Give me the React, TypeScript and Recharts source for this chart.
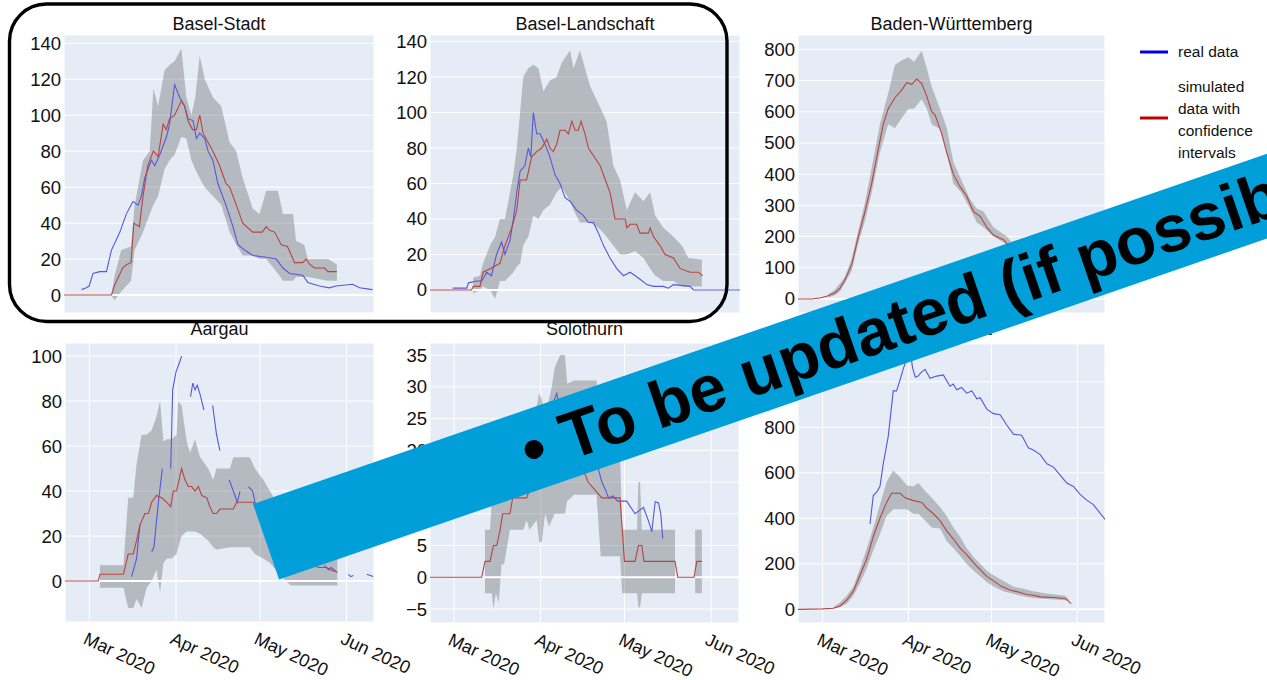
import React from 'react';
import { ComposedChart, Line, Area, XAxis, YAxis, CartesianGrid, ReferenceLine } from 'recharts';

const FONT = '"Liberation Sans", Arial, Helvetica, sans-serif';

// x values are days counted from 1 March 2020
const xTickDays = [0, 31, 61, 92];
const xTickLabels = ['Mar 2020', 'Apr 2020', 'May 2020', 'Jun 2020'];

const panelTitles = ['Basel-Stadt', 'Basel-Landschaft', 'Baden-Württemberg', 'Aargau', 'Solothurn', 'Grand Est'];
const legendReal = 'real data';
const legendSim = ['simulated', 'data with', 'confidence', 'intervals'];
const bannerText = '• To be updated (if possible)';

const yTicks140 = [0, 20, 40, 60, 80, 100, 120, 140];
const yTicks800 = [0, 100, 200, 300, 400, 500, 600, 700, 800];
const yTicks100 = [0, 20, 40, 60, 80, 100];
const yTicks35 = [-5, 0, 5, 10, 15, 20, 25, 30, 35];
const yTicks1000 = [0, 200, 400, 600, 800, 1000];

// ---------- Basel-Stadt ----------
const bsSim = [[-9,0],[8,0],[9,5],[12,15],[13.5,17],[15,18],[16,40],[18,38],[19.3,55],[21,72],[23,80],[24.7,77],[26.5,95],[27.6,92],[28.8,98],[30.6,100],[33,108],[34.2,105],[35.4,97],[37,92],[38.4,92],[39.6,100],[40.8,90],[44.3,80],[46.7,72],[49,62],[50.3,60],[52.7,50],[55,40],[58.6,35],[62,35],[63.4,38],[64.6,36],[66.4,35],[68.8,28],[71,27],[73,20],[73.5,18],[76.5,18],[77.7,20],[79,17],[80.7,15],[84.3,15],[85.5,13],[88.7,13]];
const bsBand = [[8,0,0],[9,-3,10],[11.5,2,25],[15,8,27],[16.3,25,50],[19.3,35,75],[21.7,45,80],[23,50,115],[24.7,55,105],[27,70,125],[28.8,75,128],[30.6,78,130],[33,88,137],[34.8,87,110],[36.6,75,100],[38,70,110],[39.6,65,133],[41.4,60,120],[44.3,55,110],[47.3,50,105],[50.3,35,85],[52.7,28,80],[55,22,65],[58.6,22,48],[61,20,45],[63.4,20,58],[67.6,12,58],[69.4,8,45],[73,8,45],[74.1,10,30],[77,10,28],[78.3,10,20],[85.5,8,20],[88.7,8,17]];
const bsReal = [[-2.7,3],[-1,4],[0,5],[1.4,12],[3.8,13],[6.2,13],[8,25],[11,35],[13.3,45],[15.7,52],[17.5,50],[18.7,55],[19.9,65],[22.3,75],[23.5,72],[25.3,78],[27.7,88],[28.8,95],[30.6,117],[32.4,110],[34.2,105],[35.4,98],[37.2,97],[38.4,87],[39.6,90],[41.4,87],[42.6,80],[44.3,75],[46.1,62],[49,50],[51.5,38],[53.3,28],[55.7,25],[58.6,22],[63.4,21],[67,20],[69.4,15],[71.8,12],[76.5,11],[78.3,7],[82.5,5],[86,4],[88.4,5],[94.4,6],[96.8,4],[101.5,3]];

// ---------- Basel-Landschaft ----------
const blSim = [[-9,0],[5.9,0],[6.5,2],[8.9,2],[10,10],[12.5,12],[16,15],[17.8,25],[20.2,35],[22,45],[23.2,62],[25.5,62],[27.3,75],[29.1,78],[30.9,80],[32.7,85],[33.8,80],[35,78],[36.2,82],[37.4,90],[39.2,90],[40.4,88],[41.6,95],[42.8,90],[43.9,90],[44.9,95],[46.3,88],[47.5,80],[51.7,70],[54,60],[55.2,55],[57,40],[60.6,40],[61.2,35],[62.4,37],[64.7,37],[65.9,32],[68.9,32],[69.5,35],[70.7,30],[73,25],[74.8,20],[77.8,18],[80.2,12],[83.7,10],[86.7,10],[88.2,8]];
const blBand = [[6.5,-2,7],[8.9,0,8],[10,2,15],[12.5,0,25],[14.3,-5,30],[16,5,40],[17.8,5,40],[20.8,10,65],[22,13,80],[23.2,15,100],[24.3,25,120],[26.1,30,125],[27.9,42,127],[29.7,40,125],[31.5,45,112],[33.8,48,118],[36.2,55,120],[38,58,128],[41,50,135],[42.2,45,125],[44.5,38,135],[48.1,38,115],[51.1,35,105],[54,30,95],[56.4,25,70],[58.8,20,62],[61.2,20,45],[64.1,22,55],[67.1,18,50],[69.5,12,55],[71.3,8,42],[74.2,5,35],[77.8,5,30],[80.8,2,25],[83.1,2,18],[87.9,2,17]];
const blReal = [[-0.8,1],[4.2,1],[4.8,4],[7.7,5],[9.5,5],[11.3,10],[13,8],[14.8,20],[16.6,27],[17.8,20],[19.6,28],[20.8,40],[22,55],[23.2,67],[24.9,70],[26.1,80],[27,75],[27.9,100],[29.1,88],[30.3,88],[32.1,82],[33.8,75],[35.6,65],[37.4,60],[39.2,52],[41,50],[43.3,45],[45.7,42],[47.5,38],[49.3,38],[51.1,32],[52.9,25],[55.2,18],[57.6,12],[60,8],[62.4,10],[65.9,6],[68.3,3],[70.7,2],[74.2,2],[76,1],[77.8,3],[83.7,2],[84.9,0],[101.5,0]];

// ---------- Baden-Württemberg ----------
const bwSim = [[-9,0],[-4,0],[-1,3],[2,10],[4.5,20],[6.3,35],[8,60],[10.5,110],[12.9,200],[15.3,280],[17.7,370],[20.1,480],[21.9,560],[23.7,610],[26.1,645],[28.6,670],[30.4,693],[32.2,688],[34,705],[35.8,690],[37.6,650],[39.4,600],[40.6,590],[43,530],[44.8,470],[47.2,400],[49.6,360],[52,330],[54.5,280],[56.9,265],[59.3,230],[61.7,205],[65.3,190],[67.7,165],[70,150],[75,120],[80,90],[85,70],[88.5,60]];
const bwBand = [[2,5,15],[4.5,12,30],[6.3,25,50],[8,50,70],[10.5,90,130],[12.9,180,220],[15.3,250,310],[17.7,340,420],[20.7,470,560],[23.7,560,660],[26.1,547,750],[28.6,580,765],[31,610,775],[33,610,760],[35.8,640,795],[37.6,610,740],[39.4,560,680],[42.4,545,610],[44.8,470,550],[47.2,370,440],[50.2,340,380],[53.2,290,320],[55.7,245,290],[58.1,230,280],[61.7,200,230],[66.5,175,200],[70,140,165],[75,110,135],[80,80,105],[85,60,85],[88.5,50,70]];
const bwReal = [];

// ---------- Aargau ----------
const agSim = [[-9,0],[3.2,0],[3.8,3],[12.2,3],[13.9,12],[15.7,12],[16.9,18],[18.1,25],[19.9,30],[21.1,30],[22.3,35],[24,38],[25.9,37],[27.7,35],[29.1,33],[30,40],[31.2,40],[33,50],[34.2,45],[35.4,42],[36.6,42],[37.8,40],[39,42],[40.2,38],[42,37],[43.1,33],[44.3,30],[45.5,30],[46.7,32],[51.5,32],[52.7,35],[58.6,35],[62,30],[66,25],[70,18],[74,12],[78,8],[82,6],[85,6],[86,5],[88.7,4]];
const agBand = [[3.8,-3,7],[12.2,-3,7],[13.9,-12,37],[15.7,-12,37],[16.9,-8,52],[18.7,-12,65],[20.5,-3,65],[22.3,0,67],[24,5,73],[25.3,-5,80],[26.5,8,62],[27.7,10,63],[29.4,10,63],[31.2,12,65],[31.8,15,80],[33,20,78],[34.8,22,62],[36,22,57],[37.8,22,63],[39.6,21,55],[42.5,18,50],[44.3,15,45],[45.5,14,50],[50.3,15,50],[51.5,15,55],[57.4,15,55],[59.2,12,50],[62.2,10,45],[64.6,8,40],[68,3,32],[72,-2,25],[76,-2,18],[82,-2,14],[88.7,-2,10]];
const agReal = [[15.1,2],[16.9,10],[18.1,25],[20,null],[22.3,13],[23.1,15],[24.7,35],[26.1,50],[27.5,null],[29.1,50],[29.8,85],[31,93],[32.2,97],[33,100],[34.5,null],[36.2,82],[37,88],[37.8,85],[38.6,87],[39.6,83],[41,76],[42.5,null],[44.1,78],[45.5,65],[46.7,58],[48.5,null],[50,45],[51.5,40],[52.9,35],[53.9,40],[55.5,null],[56.9,42],[58.4,40],[59.8,32],[61,28],[70,null],[84,7],[85.5,5],[86.5,6],[88.4,4],[90.5,null],[92.6,3],[93.5,2],[94.4,2.5],[96.5,null],[99.2,3],[100.5,2.5],[101.5,2]];

// ---------- Solothurn ----------
const soSim = [[-9,0],[9.9,0],[11.1,2.5],[12.9,2.5],[14.1,5],[15.3,5],[16.5,7.5],[17.4,10],[20,10],[21,12.5],[26,12.5],[28,15],[31,18],[34,20],[37,22],[41,20],[45.7,17.5],[48,15],[52.9,12.5],[59.4,12.5],[61,2.5],[64.8,2.5],[66,5],[67.2,5],[68,2.5],[79.1,2.5],[80.1,0],[85.9,0],[86.9,2.5],[88.7,2.5]];
const soBand = [[11.1,-2.5,7.5],[12.9,-2.5,7.5],[13.5,-2.5,12],[14.1,-5,15],[15,-2.5,15],[16,-4,17],[17,2,20],[17.9,2,20],[20,7.5,22],[24.8,7.5,24],[26,9,25],[27,7.5,25],[29.6,9,27],[30.5,5.5,29],[31.4,5.5,28],[32.6,10,26],[34,8,28],[35,9,30],[36,10,33],[38,10,35],[39.7,10,35],[40.5,12,30.5],[43,13,31],[51,13,31],[52.5,3.3,22],[59.4,3.3,20],[60.2,-2.5,7.5],[65.5,-2.5,7.5],[66,-4.7,15],[66.6,-4.7,15],[67.2,-2.5,7.5],[79.1,-2.5,7.5]];
const soBand2 = [[86.3,-2.5,7.5],[88.7,-2.5,7.5]];
const soReal = [[27,18],[30,22],[33,25],[35,27],[36.8,29],[38,26],[40,24],[43,21],[46,19],[49,18],[51.7,17],[52.9,15],[54,14],[55.3,12.5],[57,12.8],[58.5,12],[61.8,12],[64.8,10],[67.8,11],[69.5,9],[70.8,7.2],[71.5,10],[72,11.9],[73.2,11.7],[74,10],[74.7,6.1]];

// ---------- Grand Est ----------
const geSim = [[-9,0],[0,2],[3.9,5],[6.3,15],[8.7,40],[11.1,80],[13.5,150],[15.9,220],[18.3,320],[20.7,400],[23.1,470],[24.9,510],[28,510],[29.8,490],[32.2,480],[35.8,470],[37.6,445],[40,420],[42.4,390],[44.8,345],[47.2,310],[49.6,270],[52,240],[54.5,205],[56.9,175],[59.3,145],[61.7,125],[64.7,100],[67.7,85],[70.1,78],[73.7,65],[76.1,62],[78.6,55],[83.4,52],[87.6,48],[89.8,25]];
const geBand = [[3.9,3,10],[6.3,10,30],[8.7,25,60],[11.1,60,100],[13.5,115,180],[15.9,180,265],[18.3,260,360],[20.7,330,460],[23.1,410,560],[25.5,440,610],[28,440,580],[30.4,440,545],[32.8,420,540],[34.6,420,555],[37,390,520],[39.4,360,490],[42.4,355,450],[44.8,300,410],[47.2,270,360],[49.6,235,320],[52,200,270],[54.5,170,230],[56.9,145,200],[59.3,120,170],[61.7,100,150],[65.3,80,125],[68.9,68,100],[72.5,58,90],[76.1,50,80],[80.9,45,70],[87.6,40,60],[88.8,38,45]];
const geReal = [[17.1,375],[18.3,500],[19.5,515],[20.7,540],[21.9,640],[23.7,760],[25.5,960],[26.7,960],[28,1010],[29.2,1060],[30.4,1100],[31.5,1150],[32.5,1060],[33.5,1020],[34.5,1025],[35.5,1040],[37,1055],[38.8,1015],[41.2,1025],[43.6,1030],[46,980],[47.2,990],[48.4,965],[50.2,975],[52,950],[53.9,960],[55.7,925],[56.9,930],[59.3,880],[61.7,860],[64.1,855],[66.5,810],[68.9,770],[71.9,765],[74.3,710],[76.1,700],[78.6,680],[81,640],[83.4,625],[85.8,590],[88.2,555],[90.6,540],[93,505],[95.4,480],[97.8,460],[102,395]];

const toPts = (arr) => arr.map((a) => ({ d: a[0], v: a[1] }));
const toBand = (arr) => arr.map((a) => ({ d: a[0], lo: a[1], hi: a[2] }));

const panels = [
  { title: panelTitles[0], left: 64, right: 374, top: 35, bottom: 313, xd: [-9, 102], yd: [-10, 144.6], yt: yTicks140, sim: bsSim, bands: [bsBand], real: bsReal, xl: false, ty: 30 },
  { title: panelTitles[1], left: 430, right: 740, top: 35, bottom: 313, xd: [-8.9, 101.5], yd: [-13, 143.7], yt: yTicks140, sim: blSim, bands: [blBand], real: blReal, xl: false, ty: 30 },
  { title: panelTitles[2], left: 798, right: 1105, top: 35, bottom: 313, xd: [-8.9, 102], yd: [-45, 846], yt: yTicks800, sim: bwSim, bands: [bwBand], real: bwReal, xl: false, ty: 30 },
  { title: panelTitles[3], left: 65, right: 374, top: 343, bottom: 622, xd: [-8.7, 101.8], yd: [-18.2, 105.8], yt: yTicks100, sim: agSim, bands: [agBand], real: agReal, xl: true, ty: 335 },
  { title: panelTitles[4], left: 430, right: 739, top: 343, bottom: 623, xd: [-8.6, 102], yd: [-7.2, 36.9], yt: yTicks35, sim: soSim, bands: [soBand, soBand2], real: soReal, xl: true, ty: 335 },
  { title: panelTitles[5], left: 798, right: 1105, top: 344, bottom: 623, xd: [-8.9, 102], yd: [-60, 1166], yt: yTicks1000, sim: geSim, bands: [geBand], real: geReal, xl: true, ty: 335 },
];

const YTick = (props) => {
  const { x, y, payload } = props;
  const s = String(payload.value).replace('-', '\u2212');
  return (
    <text x={x} y={y} dy={6.5} textAnchor="end" fontSize={18.5} fill="#111" fontFamily={FONT}>{s}</text>
  );
};

const XTick = (props) => {
  const { x, y, payload } = props;
  const i = xTickDays.indexOf(payload.value);
  return (
    <text transform={`translate(${x - 7},${y + 21}) rotate(25)`} textAnchor="start" fontSize={18} fill="#111" fontFamily={FONT}>
      {i >= 0 ? xTickLabels[i] : ''}
    </text>
  );
};

const Panel = ({ p }) => {
  const axisW = 60;
  const padTop = 12;
  const padRight = 60;
  const axisH = p.xl ? 60 : 8;
  const W = p.right - p.left + axisW + padRight;
  const H = p.bottom - p.top + axisH + padTop;
  return (
    <div style={{ position: 'absolute', left: p.left - axisW, top: p.top - padTop }}>
      <ComposedChart width={W} height={H} margin={{ top: padTop, right: padRight, bottom: 0, left: 0 }}>
        <CartesianGrid fill="#E5ECF6" fillOpacity={1} stroke="#ffffff" strokeWidth={1} />
        <XAxis
          type="number"
          dataKey="d"
          domain={p.xd}
          ticks={xTickDays}
          allowDataOverflow
          height={axisH}
          tick={p.xl ? <XTick /> : false}
          tickLine={false}
          axisLine={false}
          tickSize={0}
          tickMargin={0}
          interval={0}
        />
        <YAxis
          type="number"
          domain={p.yd}
          ticks={p.yt}
          allowDataOverflow
          width={axisW}
          tick={<YTick />}
          tickLine={false}
          axisLine={false}
          tickSize={0}
          tickMargin={3}
          interval={0}
        />
        <ReferenceLine y={0} stroke="#ffffff" strokeWidth={2} />
        {p.bands.map((b, i) => (
          <Area
            key={'b' + i}
            data={toBand(b)}
            dataKey={(o) => [o.lo, o.hi]}
            type="linear"
            stroke="none"
            fill="#444444"
            fillOpacity={0.3}
            dot={false}
            activeDot={false}
            isAnimationActive={false}
          />
        ))}
        {p.real.length > 0 && (
          <Line data={toPts(p.real)} dataKey="v" type="linear" stroke="#5757d8" strokeWidth={1.1} dot={false} activeDot={false} isAnimationActive={false} />
        )}
        <Line data={toPts(p.sim)} dataKey="v" type="linear" stroke="#b8443f" strokeWidth={1.1} dot={false} activeDot={false} isAnimationActive={false} />
      </ComposedChart>
    </div>
  );
};

export default function App() {
  return (
    <div style={{ position: 'absolute', left: 0, top: 0, width: 1267, height: 680, background: '#ffffff', overflow: 'hidden', fontFamily: FONT }}>
      {panels.map((p, i) => (
        <Panel key={i} p={p} />
      ))}
      <svg width={1267} height={680} style={{ position: 'absolute', left: 0, top: 0, pointerEvents: 'none' }}>
        {panels.map((p, i) => (
          <text key={i} x={(p.left + p.right) / 2} y={p.ty} textAnchor="middle" fontSize={18} fill="#111" fontFamily={FONT}>{p.title}</text>
        ))}
        <line x1={1140} x2={1168} y1={52} y2={52} stroke="#0000ee" strokeWidth={3} />
        <text x={1178} y={57} fontSize={15.5} fill="#111" fontFamily={FONT}>{legendReal}</text>
        <line x1={1140} x2={1168} y1={118} y2={118} stroke="#c00000" strokeWidth={3} />
        {legendSim.map((s, i) => (
          <text key={i} x={1178} y={[92, 114, 136, 158][i]} fontSize={15.5} fill="#111" fontFamily={FONT}>{s}</text>
        ))}
        <rect x={9.5} y={4} width={717.5} height={317.5} rx={37} ry={37} fill="none" stroke="#000" strokeWidth={3.4} />
        <g transform="translate(253,504) rotate(-19.05)">
          <rect x={0} y={0} width={1300} height={80} fill="#009FDA" />
          <text x={272} y={62} fontSize={66} fontWeight="bold" fill="#000" fontFamily={FONT}>{bannerText}</text>
        </g>
      </svg>
    </div>
  );
}
